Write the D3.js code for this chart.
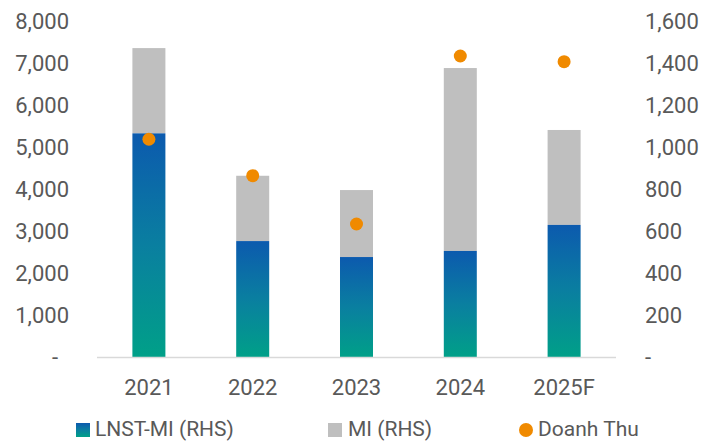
<!DOCTYPE html>
<html>
<head>
<meta charset="utf-8">
<script src="https://cdn.jsdelivr.net/npm/d3@7"></script>
<style>
  body { margin: 0; background: #fff; }
  text { font-family: Roboto, "Open Sans", sans-serif; fill: #595959; }
</style>
</head>
<body>
<script>
// data
var years = ["2021", "2022", "2023", "2024", "2025F"];
var lnstMi = [1065, 552, 476, 505, 629];   // RHS
var mi = [406, 311, 319, 871, 452];        // RHS, stacked on top
var doanhThu = [5185, 4317, 3167, 7167, 7032]; // LHS
var leftTicks = [0, 1000, 2000, 3000, 4000, 5000, 6000, 7000, 8000];
var rightTicks = [0, 200, 400, 600, 800, 1000, 1200, 1400, 1600];

var W = 704, H = 441;
var margin = {top: 21, right: 88, bottom: 84, left: 97};
var iw = W - margin.left - margin.right;
var ih = H - margin.top - margin.bottom;

var svg = d3.select("body").append("svg")
    .attr("width", W)
    .attr("height", H);

var defs = svg.append("defs");
var grad = defs.append("linearGradient")
    .attr("id", "lnst")
    .attr("x1", 0).attr("y1", 0).attr("x2", 0).attr("y2", 1);
grad.append("stop").attr("offset", "0%").attr("stop-color", "#0c5aae");
grad.append("stop").attr("offset", "50%").attr("stop-color", "#0a7fa0");
grad.append("stop").attr("offset", "100%").attr("stop-color", "#00a088");

var g = svg.append("g")
    .attr("transform", "translate(" + margin.left + "," + margin.top + ")");

var x = d3.scaleBand().domain(years).range([0, iw]).padding(0);
var yL = d3.scaleLinear().domain([0, 8000]).range([ih, 0]);
var yR = d3.scaleLinear().domain([0, 1600]).range([ih, 0]);

var fmt = function(d) { return d === 0 ? "-" : d3.format(",")(d); };
var barW = 33;

// axes
var axL = g.append("g")
    .call(d3.axisLeft(yL).tickValues(leftTicks).tickSize(0).tickPadding(28).tickFormat(fmt));
var axR = g.append("g")
    .attr("transform", "translate(" + iw + ",0)")
    .call(d3.axisRight(yR).tickValues(rightTicks).tickSize(0).tickPadding(29).tickFormat(fmt));
[axL, axR].forEach(function(a) {
    a.select(".domain").remove();
    a.selectAll("text").style("font-size", "22px").style("font-family", null).attr("fill", "#595959");
});
// accounting style dash sits left of the digits
axL.selectAll(".tick text").filter(function(d) { return d === 0; }).attr("dx", -11);

// bars
var cols = g.selectAll(".col").data(years).enter().append("g").attr("class", "col");
cols.append("rect")
    .attr("x", function(d) { return x(d) + x.bandwidth() / 2 - barW / 2; })
    .attr("width", barW)
    .attr("y", function(d, i) { return yR(lnstMi[i] + mi[i]); })
    .attr("height", function(d, i) { return yR(lnstMi[i]) - yR(lnstMi[i] + mi[i]); })
    .attr("fill", "#bfbfbf");
cols.append("rect")
    .attr("x", function(d) { return x(d) + x.bandwidth() / 2 - barW / 2; })
    .attr("width", barW)
    .attr("y", function(d, i) { return yR(lnstMi[i]); })
    .attr("height", function(d, i) { return ih - yR(lnstMi[i]); })
    .attr("fill", "url(#lnst)");

// baseline
g.append("line")
    .attr("x1", 0).attr("x2", iw)
    .attr("y1", ih + 0.5).attr("y2", ih + 0.5)
    .attr("stroke", "#d9d9d9").attr("stroke-width", 1.5);

// dots
g.selectAll(".dot").data(doanhThu).enter().append("circle")
    .attr("cx", function(d, i) { return x(years[i]) + x.bandwidth() / 2; })
    .attr("cy", function(d) { return yL(d); })
    .attr("r", 6.5)
    .attr("fill", "#f08a00");

// year labels
g.selectAll(".yr").data(years).enter().append("text")
    .attr("x", function(d) { return x(d) + x.bandwidth() / 2; })
    .attr("y", ih + 30)
    .attr("dy", "0.35em")
    .attr("text-anchor", "middle")
    .style("font-size", "22px")
    .text(function(d) { return d; });

// legend
var lg = svg.append("g").attr("transform", "translate(0,429)");
lg.append("rect").attr("x", 76).attr("y", -6).attr("width", 14).attr("height", 14).attr("fill", "url(#lnst)");
lg.append("text").attr("x", 95).attr("dy", "0.35em").style("font-size", "21px").text("LNST-MI (RHS)");
lg.append("rect").attr("x", 328).attr("y", -6).attr("width", 14).attr("height", 14).attr("fill", "#bfbfbf");
lg.append("text").attr("x", 348).attr("dy", "0.35em").style("font-size", "21px").text("MI (RHS)");
lg.append("circle").attr("cx", 526).attr("cy", 1).attr("r", 7).attr("fill", "#f08a00");
lg.append("text").attr("x", 538).attr("dy", "0.35em").style("font-size", "21px").text("Doanh Thu");
</script>
</body>
</html>
